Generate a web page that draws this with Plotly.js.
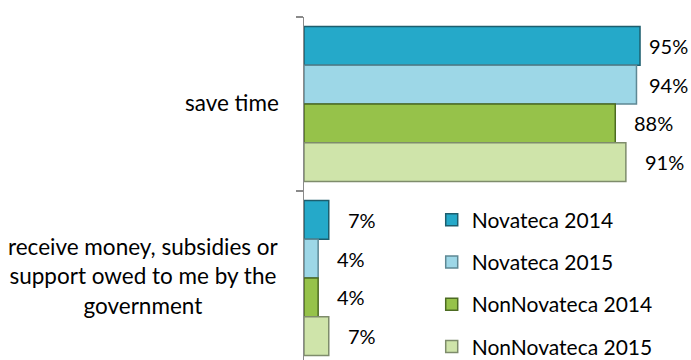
<!DOCTYPE html>
<html>
<head>
<meta charset="utf-8">
<script src="https://cdn.plot.ly/plotly-3.0.1.min.js"></script>
<style>
html,body{margin:0;padding:0;background:#fff;}
#chart{width:691px;height:360px;}
</style>
</head>
<body>
<div id="chart"></div>
<script>
// ---- data ----
var categories = ["save time", "receive money, subsidies or<br>support owed to me by the<br>government"];
var seriesNames = ["Novateca 2014", "Novateca 2015", "NonNovateca 2014", "NonNovateca 2015"];
var novateca2014 = [95, 7];
var novateca2015 = [94, 4];
var nonNovateca2014 = [88, 4];
var nonNovateca2015 = [91, 7];
var seriesValues = [novateca2014, novateca2015, nonNovateca2014, nonNovateca2015];

// ---- styles ----
var fills = ["#25A9C9", "#9DD7E7", "#96C24A", "#CFE4AA"];
var borders = ["#1D5E6E", "#5E8894", "#4C6B22", "#7E8C6B"];
var FONT = "Lato, 'Open Sans', sans-serif";
var FS_CAT = 22.5, FS_LEG = 21, FS_VAL = 20;

var W = 691, H = 360;
var margin = {l: 304, r: 0, t: 17, b: 0, autoexpand: false};
var plotW = W - margin.l - margin.r;
var pxPerUnit = 3.537;
var xMax = plotW / pxPerUnit;
var catPx = 174;
var plotH = H - margin.t - margin.b;
var bargap = 0.109;
var yBottom = -0.5 + plotH / catPx;

var traces = seriesNames.map(function (name, i) {
  return {
    type: "bar",
    orientation: "h",
    name: name,
    legendgroup: "g" + i,
    y: categories,
    x: seriesValues[i],
    marker: {color: fills[i], line: {color: borders[i], width: 1.5}},
    hoverinfo: "none"
  };
});

var annotations = [];
// category labels
categories.forEach(function (c, ci) {
  annotations.push({
    xref: "paper", yref: "y", x: 0, y: ci, xanchor: "right", yanchor: "middle",
    xshift: -23, yshift: 2, text: c, showarrow: false, align: "center",
    font: {family: FONT, size: FS_CAT, color: "#000"}
  });
});
// value labels
var nS = seriesNames.length;
var barW = (1 - bargap) / nS;
var labelW = 42; // approx label width in px
seriesValues.forEach(function (vals, si) {
  var off = -(1 - bargap) / 2 + barW * (si + 0.5);
  vals.forEach(function (v, ci) {
    var desired = v + 17 / pxPerUnit;
    var maxLeft = xMax - (labelW + 2) / pxPerUnit;
    annotations.push({
      xref: "x", yref: "y", x: Math.min(desired, maxLeft), y: ci + off,
      xanchor: "left", yanchor: "middle", text: v + "%", showarrow: false,
      font: {family: FONT, size: FS_VAL, color: "#000"}
    });
  });
});

var layout = {
  width: W, height: H,
  margin: margin,
  paper_bgcolor: "#fff", plot_bgcolor: "#fff",
  barmode: "group", bargap: bargap, bargroupgap: 0,
  showlegend: true,
  legend: {
    x: 0.33, y: 0.468, xanchor: "left", yanchor: "top",
    font: {family: FONT, size: FS_LEG, color: "#000"},
    tracegroupgap: 12, itemwidth: 30, bgcolor: "rgba(0,0,0,0)"
  },
  xaxis: {range: [0, xMax], showgrid: false, zeroline: false, showticklabels: false, showline: false, ticks: ""},
  yaxis: {
    type: "category", range: [yBottom, -0.5], showgrid: false, zeroline: false,
    showticklabels: false, showline: true, linecolor: "#8A8A8A", linewidth: 1.5,
    ticks: "outside", ticklen: 7, tickwidth: 1.5, tickcolor: "#8A8A8A", tickson: "boundaries"
  },
  annotations: annotations,
  font: {family: FONT, size: FS_LEG, color: "#000"}
};

Plotly.newPlot("chart", traces, layout, {staticPlot: true, displayModeBar: false});
</script>
</body>
</html>
